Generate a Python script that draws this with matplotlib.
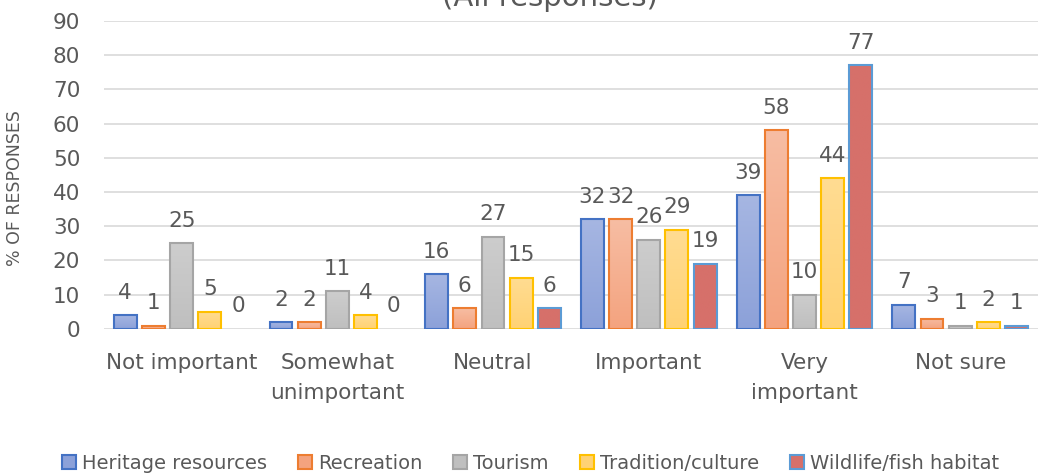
import numpy as np
import matplotlib.pyplot as plt
from matplotlib.colors import to_rgb

categories = ['Not important', 'Somewhat\nunimportant', 'Neutral', 'Important', 'Very\nimportant', 'Not sure']
series = ['Heritage resources', 'Recreation', 'Tourism', 'Tradition/culture', 'Wildlife/fish habitat']
heritage = [4, 2, 16, 32, 39, 7]
recreation = [1, 2, 6, 32, 58, 3]
tourism = [25, 11, 27, 26, 10, 1]
tradition = [5, 4, 15, 29, 44, 2]
wildlife = [0, 0, 6, 19, 77, 1]
yticks = [0, 10, 20, 30, 40, 50, 60, 70, 80, 90]

# gradient fill (top colour, bottom colour) and outline per series
tops = ['#A6B6E2', '#F7BDA3', '#CDCDCD', '#FFDC92', '#D6706A']
bottoms = ['#8CA1D9', '#F4A37F', '#BFBFBF', '#FFD274', '#D6706A']
edges = ['#4472C4', '#ED7D31', '#A5A5A5', '#FFC000', '#5B9BD5']
txt = '#595959'

fig = plt.figure(figsize=(10.38, 4.74), dpi=100)
ax = fig.add_axes([0.100, 0.306, 0.900, 0.650])

x = np.arange(len(categories))
step = 0.181
width = 0.147
data = [heritage, recreation, tourism, tradition, wildlife]
for k, vals in enumerate(data):
    pos = x + (k - 2) * step
    grad = np.linspace(to_rgb(bottoms[k]), to_rgb(tops[k]), 64)[:, None, :]
    for xp, v in zip(pos, vals):
        if v > 0:
            ax.imshow(grad, extent=[xp - width / 2, xp + width / 2, 0, v],
                      origin='lower', aspect='auto', zorder=2, interpolation='bilinear')
        ax.annotate(str(v), (xp, v), xytext=(0, 9), textcoords='offset points',
                    ha='center', va='bottom', fontsize=15.5, color=txt)
    bars = ax.bar(pos, vals, width, facecolor='none', edgecolor=edges[k],
                  linewidth=1.5, zorder=3)
    for b, v in zip(bars, vals):
        if v == 0:
            b.set_linewidth(0)
    # legend handle
    ax.bar([0], [0], width, color=bottoms[k], edgecolor=edges[k], linewidth=1.5,
           label=series[k])

ax.set_xlim(-0.5, len(categories) - 0.5)
ax.set_ylim(0, 90)
ax.set_yticks(yticks)
ax.set_xticks(x)
ax.set_xticklabels(categories, fontsize=15.5, color=txt, linespacing=1.65)
ax.tick_params(axis='y', labelsize=15.5, colors=txt, length=0, pad=17)
ax.tick_params(axis='x', length=0, pad=17)
ax.grid(axis='y', color='#D9D9D9', linewidth=1.2, zorder=0)
ax.set_axisbelow(True)
for s in ax.spines.values():
    s.set_visible(False)
ax.set_ylabel('% OF RESPONSES', fontsize=12.5, color=txt)
ax.yaxis.set_label_coords(-0.085, 0.458)

fig.text(0.530, 1 - 6 / 474, '(All responses)', ha='center', va='baseline',
         fontsize=21, color=txt)

leg = fig.legend(loc='center', bbox_to_anchor=(0.511, 0.023), ncol=5, frameon=False,
                 fontsize=14, handlelength=0.72, handleheight=0.72, handletextpad=0.3,
                 columnspacing=1.6, labelcolor=txt)

fig.savefig('out.png', dpi=100)
